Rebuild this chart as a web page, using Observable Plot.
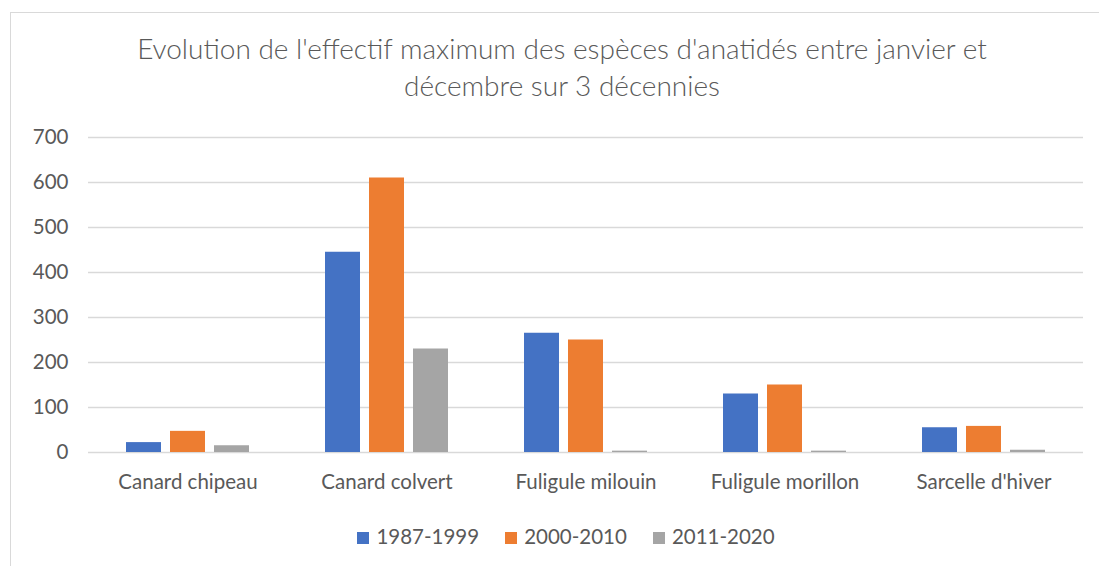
<!DOCTYPE html>
<html><head><meta charset="utf-8">
<script src="https://cdn.jsdelivr.net/npm/d3@7"></script>
<script src="https://cdn.jsdelivr.net/npm/@observablehq/plot@0.6"></script>
<style>
body{margin:0;background:#fff;font-family:Lato,"Open Sans",sans-serif;color:#595959;}
#wrap{position:relative;width:1099px;height:566px;overflow:hidden;}
#frame{position:absolute;left:10px;top:12px;width:1200px;height:700px;border:1px solid #d9d9d9;box-sizing:border-box;}
#title{position:absolute;left:10px;width:1104px;top:30px;text-align:center;font-size:28px;font-weight:300;line-height:37px;color:#595959;}
#chart{position:absolute;left:0;top:120px;}
#legend{position:absolute;left:0;width:1132px;top:524px;text-align:center;font-size:20.5px;color:#595959;}
#legend span.item{display:inline-block;margin:0 13px;}
#legend span.sw{display:inline-block;width:12px;height:12px;margin-right:7px;vertical-align:0px;}
</style></head>
<body><div id="wrap"><div id="frame"></div>
<div id="title">Evolution de l'effectif maximum des espèces d'anatidés entre janvier et<br>décembre sur 3 décennies</div>
<div id="chart"></div><div id="legend"></div></div>
<script>
const categories = ["Canard chipeau","Canard colvert","Fuligule milouin","Fuligule morillon","Sarcelle d'hiver"];
const seriesNames = ["1987-1999","2000-2010","2011-2020"];
const s1987 = [22,445,265,130,55];
const s2000 = [47,610,250,150,58];
const s2011 = [15,230,3,3,5];
const colors = ["#4472C4","#ED7D31","#A5A5A5"];
const yTicks = [0,100,200,300,400,500,600,700];

const allSeries = [s1987, s2000, s2011];
const data = [];
categories.forEach((c,i)=>allSeries.forEach((s,j)=>data.push({cat:c, series:seriesNames[j], value:s[i]})));

const plot = Plot.plot({
  width:1099, height:385,
  marginLeft:86, marginRight:14, marginTop:17, marginBottom:53,
  style:{fontFamily:"Lato, 'Open Sans', sans-serif", fontSize:"20px", color:"#595959", background:"transparent"},
  fx:{domain:categories, padding:0, label:null, axis:null},
  x:{domain:seriesNames, axis:null, paddingInner:0.213, paddingOuter:0.85},
  y:{domain:[0,700], ticks:yTicks, label:null, axis:null},
  color:{domain:seriesNames, range:colors},
  marks:[
    Plot.ruleY(yTicks,{stroke:"#d9d9d9", strokeWidth:1.5}),
    Plot.barY(data,{fx:"cat", x:"series", y:"value", fill:"series"}),
    Plot.axisY({ticks:yTicks, tickSize:0, tickPadding:20, label:null, fontSize:20.5}),
    Plot.axisFx({anchor:"bottom", tickSize:0, tickPadding:22, label:null, fontSize:20.5})
  ]
});
document.getElementById("chart").appendChild(plot);

const leg = document.getElementById("legend");
seriesNames.forEach((n,i)=>{
  const it=document.createElement("span"); it.className="item";
  const sw=document.createElement("span"); sw.className="sw"; sw.style.background=colors[i];
  it.appendChild(sw); it.appendChild(document.createTextNode(n)); leg.appendChild(it);
});
</script></body></html>
